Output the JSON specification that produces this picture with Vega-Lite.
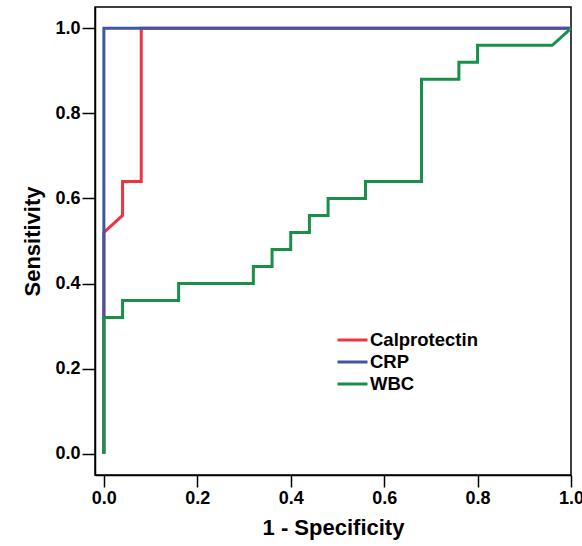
{
  "$schema": "https://vega.github.io/schema/vega-lite/v6.json",
  "width": 476,
  "height": 468,
  "autosize": {"type": "none"},
  "padding": {"left": 95, "top": 7, "right": 11, "bottom": 71},
  "background": "white",
  "config": {
    "view": {"stroke": "black", "strokeWidth": 1.5},
    "font": "Liberation Sans"
  },
  "data": {
    "values": [
      {"series": "Calprotectin", "i": 1, "fpr": 0, "tpr": 0},
      {"series": "Calprotectin", "i": 2, "fpr": 0, "tpr": 0.52},
      {"series": "Calprotectin", "i": 3, "fpr": 0.04, "tpr": 0.56},
      {"series": "Calprotectin", "i": 4, "fpr": 0.04, "tpr": 0.64},
      {"series": "Calprotectin", "i": 5, "fpr": 0.08, "tpr": 0.64},
      {"series": "Calprotectin", "i": 6, "fpr": 0.08, "tpr": 1},
      {"series": "Calprotectin", "i": 7, "fpr": 1, "tpr": 1},
      {"series": "CRP", "i": 1, "fpr": 0, "tpr": 0},
      {"series": "CRP", "i": 2, "fpr": 0, "tpr": 1},
      {"series": "CRP", "i": 3, "fpr": 1, "tpr": 1},
      {"series": "WBC", "i": 1, "fpr": 0, "tpr": 0},
      {"series": "WBC", "i": 2, "fpr": 0, "tpr": 0.32},
      {"series": "WBC", "i": 3, "fpr": 0.04, "tpr": 0.32},
      {"series": "WBC", "i": 4, "fpr": 0.04, "tpr": 0.36},
      {"series": "WBC", "i": 5, "fpr": 0.16, "tpr": 0.36},
      {"series": "WBC", "i": 6, "fpr": 0.16, "tpr": 0.40},
      {"series": "WBC", "i": 7, "fpr": 0.32, "tpr": 0.40},
      {"series": "WBC", "i": 8, "fpr": 0.32, "tpr": 0.44},
      {"series": "WBC", "i": 9, "fpr": 0.36, "tpr": 0.44},
      {"series": "WBC", "i": 10, "fpr": 0.36, "tpr": 0.48},
      {"series": "WBC", "i": 11, "fpr": 0.40, "tpr": 0.48},
      {"series": "WBC", "i": 12, "fpr": 0.40, "tpr": 0.52},
      {"series": "WBC", "i": 13, "fpr": 0.44, "tpr": 0.52},
      {"series": "WBC", "i": 14, "fpr": 0.44, "tpr": 0.56},
      {"series": "WBC", "i": 15, "fpr": 0.48, "tpr": 0.56},
      {"series": "WBC", "i": 16, "fpr": 0.48, "tpr": 0.60},
      {"series": "WBC", "i": 17, "fpr": 0.56, "tpr": 0.60},
      {"series": "WBC", "i": 18, "fpr": 0.56, "tpr": 0.64},
      {"series": "WBC", "i": 19, "fpr": 0.68, "tpr": 0.64},
      {"series": "WBC", "i": 20, "fpr": 0.68, "tpr": 0.88},
      {"series": "WBC", "i": 21, "fpr": 0.76, "tpr": 0.88},
      {"series": "WBC", "i": 22, "fpr": 0.76, "tpr": 0.92},
      {"series": "WBC", "i": 23, "fpr": 0.80, "tpr": 0.92},
      {"series": "WBC", "i": 24, "fpr": 0.80, "tpr": 0.96},
      {"series": "WBC", "i": 25, "fpr": 0.96, "tpr": 0.96},
      {"series": "WBC", "i": 26, "fpr": 1, "tpr": 1}
    ]
  },
  "mark": {"type": "line", "strokeWidth": 3, "clip": false},
  "encoding": {
    "x": {
      "field": "fpr",
      "type": "quantitative",
      "scale": {"domain": [-0.019, 1], "nice": false, "zero": false},
      "axis": {
        "title": "1 - Specificity",
        "values": [0, 0.2, 0.4, 0.6, 0.8, 1],
        "format": ".1f",
        "grid": false,
        "domainColor": "black",
        "domainWidth": 1.5,
        "tickColor": "black",
        "tickWidth": 1.5,
        "tickSize": 12,
        "labelFont": "Liberation Sans",
        "labelFontSize": 18,
        "labelFontWeight": "bold",
        "labelColor": "black",
        "labelPadding": 2,
        "labelFlush": false,
        "labelOverlap": false,
        "titleFont": "Liberation Sans",
        "titleFontSize": 22,
        "titleFontWeight": "bold",
        "titleColor": "black",
        "titlePadding": 10
      }
    },
    "y": {
      "field": "tpr",
      "type": "quantitative",
      "scale": {"domain": [-0.05, 1.05], "nice": false, "zero": false},
      "axis": {
        "title": "Sensitivity",
        "values": [0, 0.2, 0.4, 0.6, 0.8, 1],
        "format": ".1f",
        "grid": false,
        "domainColor": "black",
        "domainWidth": 1.5,
        "tickColor": "black",
        "tickWidth": 1.5,
        "tickSize": 13,
        "labelFont": "Liberation Sans",
        "labelFontSize": 18,
        "labelFontWeight": "bold",
        "labelColor": "black",
        "labelPadding": 2,
        "labelFlush": false,
        "labelOverlap": false,
        "titleFont": "Liberation Sans",
        "titleFontSize": 22,
        "titleFontWeight": "bold",
        "titleColor": "black",
        "titlePadding": 10
      }
    },
    "color": {
      "field": "series",
      "type": "nominal",
      "scale": {
        "domain": ["Calprotectin", "CRP", "WBC"],
        "range": ["#EE3440", "#3F56A6", "#18904A"]
      },
      "legend": {
        "title": null,
        "orient": "none",
        "legendX": 241,
        "legendY": 322,
        "symbolType": "stroke",
        "symbolSize": 900,
        "symbolStrokeWidth": 3,
        "clipHeight": 22,
        "labelFont": "Liberation Sans",
        "labelFontSize": 18.5,
        "labelFontWeight": "bold",
        "labelColor": "black",
        "labelOffset": 1,
        "rowPadding": 0
      }
    },
    "order": {"field": "i", "type": "quantitative"}
  }
}
